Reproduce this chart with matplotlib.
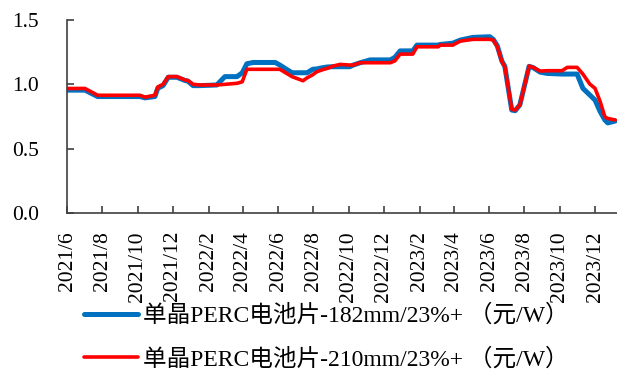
import pandas as pd
import matplotlib
matplotlib.use("Agg")
import matplotlib.pyplot as plt
import matplotlib.dates as mdates

# readings
dates = pd.to_datetime([
    "2021-06-01", "2021-07-02", "2021-07-24", "2021-10-05", "2021-10-14",
    "2021-10-31", "2021-11-05", "2021-11-14", "2021-11-23", "2021-12-08",
    "2021-12-22", "2021-12-27", "2022-01-05", "2022-01-17", "2022-02-15",
    "2022-03-01", "2022-03-22", "2022-03-31", "2022-04-08", "2022-04-19",
    "2022-05-27", "2022-06-04", "2022-06-25", "2022-07-14", "2022-07-21",
    "2022-07-31", "2022-08-07", "2022-08-18", "2022-08-25", "2022-09-04",
    "2022-09-16", "2022-10-03", "2022-10-09", "2022-10-21", "2022-11-07",
    "2022-12-12", "2022-12-20", "2022-12-29", "2023-01-20", "2023-01-27",
    "2023-03-05", "2023-03-08", "2023-03-30", "2023-04-12", "2023-05-04",
    "2023-06-02", "2023-06-08", "2023-06-15", "2023-06-23", "2023-06-28",
    "2023-07-10", "2023-07-16", "2023-07-24", "2023-08-09", "2023-08-16",
    "2023-08-28", "2023-09-09", "2023-10-05", "2023-10-14", "2023-10-31",
    "2023-11-10", "2023-11-22", "2023-12-01", "2023-12-10", "2023-12-18",
    "2023-12-23", "2024-01-05",
])

price_182 = [
    0.955, 0.955, 0.905, 0.905, 0.895,
    0.905, 0.970, 0.990, 1.055, 1.055,
    1.030, 1.025, 0.990, 0.990, 0.995,
    1.060, 1.060, 1.090, 1.160, 1.170,
    1.170, 1.150, 1.090, 1.090, 1.090,
    1.117, 1.120, 1.130, 1.135, 1.137,
    1.137, 1.137, 1.150, 1.168, 1.190,
    1.190, 1.210, 1.260, 1.260, 1.305,
    1.305, 1.310, 1.320, 1.344, 1.365,
    1.370, 1.350, 1.300, 1.180, 1.140,
    0.800, 0.795, 0.840, 1.140, 1.130,
    1.095, 1.085, 1.080, 1.080, 1.080,
    0.969, 0.917, 0.878, 0.787, 0.723,
    0.700, 0.715,
]

price_210 = [
    0.968, 0.968, 0.915, 0.915, 0.900,
    0.915, 0.980, 1.000, 1.060, 1.060,
    1.034, 1.030, 1.000, 0.995, 0.995,
    1.000, 1.008, 1.020, 1.117, 1.117,
    1.117, 1.117, 1.060, 1.028, 1.050,
    1.075, 1.098, 1.115, 1.124, 1.142,
    1.155, 1.150, 1.150, 1.168, 1.168,
    1.168, 1.183, 1.235, 1.235, 1.292,
    1.292, 1.305, 1.305, 1.336, 1.350,
    1.350, 1.344, 1.292, 1.176, 1.137,
    0.806, 0.800, 0.839, 1.142, 1.132,
    1.103, 1.106, 1.106, 1.132, 1.132,
    1.080, 1.002, 0.969, 0.865, 0.748,
    0.735, 0.723,
]

label_182 = "单晶PERC电池片-182mm/23%+ （元/W）"
label_210 = "单晶PERC电池片-210mm/23%+ （元/W）"

plt.rcParams["font.family"] = ["Liberation Serif", "Noto Sans CJK SC", "DejaVu Sans"]

fig = plt.figure(figsize=(6.17, 3.71), dpi=100)
ax = fig.add_axes([0.1086, 0.426, 0.8914, 0.52])

ax.plot(dates, price_182, color="#0070C0", lw=3.6, label=label_182, solid_capstyle="round")
ax.plot(dates, price_210, color="#FF0000", lw=2.6, label=label_210, solid_capstyle="round")

ax.set_ylim(0, 1.5)
ax.set_yticks([0.0, 0.5, 1.0, 1.5])
ax.yaxis.set_major_formatter(plt.FuncFormatter(lambda v, p: f"{v:.1f}"))
ax.set_xlim(pd.Timestamp("2021-06-01"), pd.Timestamp("2024-01-08"))
ax.xaxis.set_major_locator(mdates.MonthLocator(bymonth=[2, 4, 6, 8, 10, 12]))
ax.xaxis.set_major_formatter(plt.FuncFormatter(
    lambda v, p: f"{mdates.num2date(v).year}/{mdates.num2date(v).month}"))

for s in ["top", "right"]:
    ax.spines[s].set_visible(False)
for s in ["left", "bottom"]:
    ax.spines[s].set_color("#404040")
    ax.spines[s].set_linewidth(1.2)

ax.tick_params(axis="y", direction="in", length=5, width=1.2, color="#404040",
               labelsize=15.5, pad=20)
ax.tick_params(axis="x", direction="in", length=5, width=1.2, color="#404040",
               labelsize=15.5, pad=13, labelrotation=90)

fig.legend(loc="upper left", bbox_to_anchor=(0.136, 0.18), frameon=False,
           fontsize=17, handlelength=2.3, handletextpad=0.22, labelspacing=0.9,
           borderpad=0, borderaxespad=0)

fig.savefig("out.png", dpi=100)
